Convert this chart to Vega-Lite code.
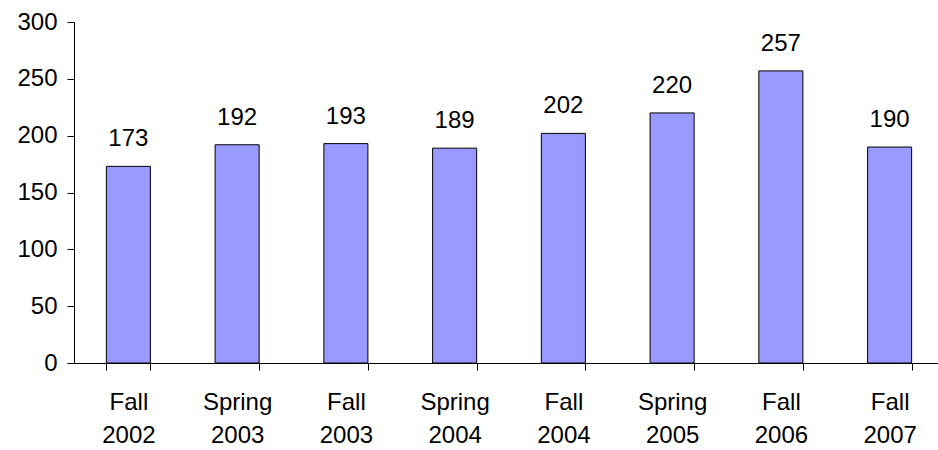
{
  "$schema": "https://vega.github.io/schema/vega-lite/v6.json",
  "autosize": {"type": "none"},
  "width": 870,
  "height": 341,
  "padding": {"left": 74, "top": 22, "right": 0, "bottom": 87},
  "background": "white",
  "config": {"view": {"stroke": null}, "font": "Liberation Sans"},
  "data": {"values": [
    {"term": "Fall 2002", "count": 173},
    {"term": "Spring 2003", "count": 192},
    {"term": "Fall 2003", "count": 193},
    {"term": "Spring 2004", "count": 189},
    {"term": "Fall 2004", "count": 202},
    {"term": "Spring 2005", "count": 220},
    {"term": "Fall 2006", "count": 257},
    {"term": "Fall 2007", "count": 190}
  ]},
  "encoding": {
    "x": {"field": "term", "type": "nominal", "sort": null,
      "scale": {"paddingInner": 0.595, "paddingOuter": 0.2975},
      "axis": {"title": null, "labelAngle": 0, "labelFontSize": 24, "labelColor": "black",
        "labelExpr": "split(datum.label, ' ')", "labelLineHeight": 33, "labelPadding": 20,
        "tickBand": "extent", "tickSize": 7, "tickColor": "black", "domainColor": "black", "labelBaseline": "top"}},
    "y": {"field": "count", "type": "quantitative",
      "scale": {"domain": [0, 300]},
      "axis": {"title": null, "values": [0, 50, 100, 150, 200, 250, 300], "grid": false,
        "labelFontSize": 24, "labelColor": "black", "tickSize": 7, "tickColor": "black",
        "domainColor": "black", "labelPadding": 10}}
  },
  "layer": [
    {"mark": {"type": "bar", "fill": "#9999FF", "stroke": "black", "strokeWidth": 1}},
    {"mark": {"type": "text", "fontSize": 24, "baseline": "bottom", "dy": -15, "color": "black"},
      "encoding": {"text": {"field": "count", "type": "quantitative"}}}
  ]
}
